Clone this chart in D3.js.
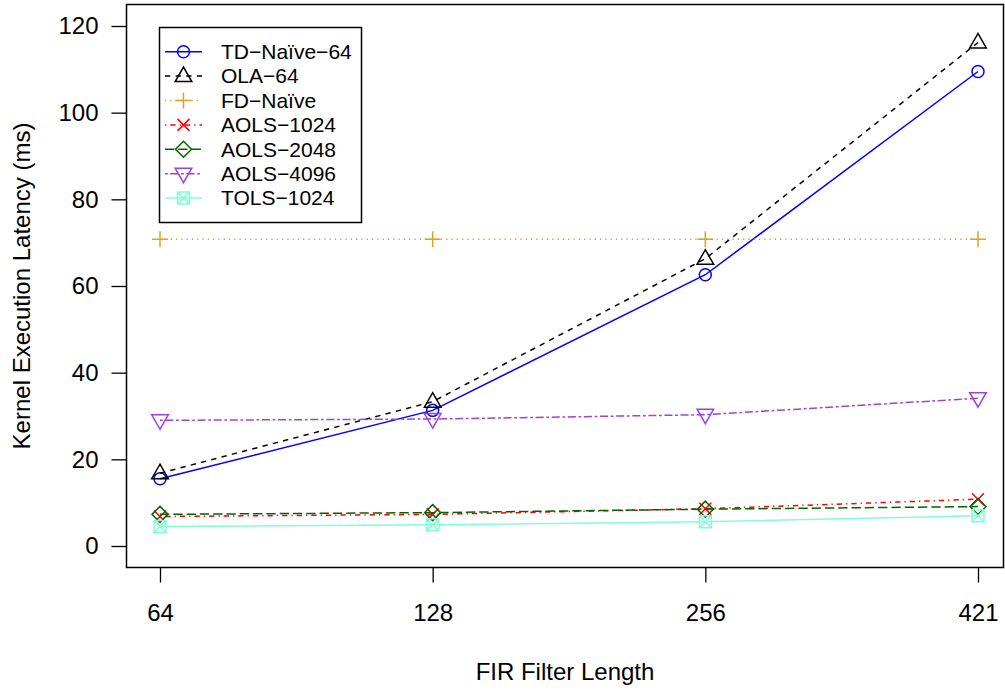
<!DOCTYPE html>
<html>
<head>
<meta charset="utf-8">
<script src="https://cdn.jsdelivr.net/npm/d3@7"></script>
<style>
  body { margin: 0; background: #fff; }
  svg text { font-family: "Liberation Sans", Arial, sans-serif; fill: #000; }
</style>
</head>
<body>
<div id="chart"></div>
<script>
// categories and series
var categories = ["64", "128", "256", "421"];
var yTicks = [0, 20, 40, 60, 80, 100, 120];

var tdNaive64 = [15.5, 31.3, 62.6, 109.5];
var ola64 = [16.8, 33.3, 66.3, 116.2];
var fdNaive = [70.8, 70.8, 70.8, 70.8];
var aols1024 = [6.8, 7.3, 8.6, 10.8];
var aols2048 = [7.3, 7.7, 8.5, 9.1];
var aols4096 = [29.0, 29.3, 30.3, 34.1];
var tols1024 = [4.5, 4.9, 5.6, 7.0];

var seriesNames = ["TD\u2212Na\u00efve\u221264", "OLA\u221264", "FD\u2212Na\u00efve", "AOLS\u22121024", "AOLS\u22122048", "AOLS\u22124096", "TOLS\u22121024"];
var seriesValues = [tdNaive64, ola64, fdNaive, aols1024, aols2048, aols4096, tols1024];

// look of each series (R style pch / lty)
var styles = [
  { color: "#0000ff", dash: null, shape: "circle" },
  { color: "#000000", dash: "5.3,5.3", shape: "triUp" },
  { color: "#daa520", dash: "1.3,4", shape: "plus" },
  { color: "#ff0000", dash: "1.3,4,5.3,4", shape: "cross" },
  { color: "#006400", dash: "9.3,4", shape: "diamond" },
  { color: "#a040d8", dash: "2.7,2.7,8,2.7", shape: "triDown" },
  { color: "#7fffd4", dash: null, shape: "boxX" }
];

var W = 1005, H = 694;
var box = { left: 126.5, top: 4.5, right: 1003.5, bottom: 567.5 };
var fs = 24;

var svg = d3.select("#chart").append("svg")
  .attr("width", W)
  .attr("height", H);

var x = d3.scalePoint().domain(categories).range([160, 978]);
var y = d3.scaleLinear().domain([0, 120]).range([546, 26]);

// marker drawing
function drawMarker(g, shape, color, cx, cy) {
  var r = 6;
  var m = g.append("g").attr("transform", "translate(" + cx + "," + cy + ")")
    .attr("fill", "none").attr("stroke", color).attr("stroke-width", 1.5);
  if (shape === "circle") {
    m.append("circle").attr("r", r);
  } else if (shape === "triUp") {
    m.append("path").attr("d", "M0,-9L8.3,5.5L-8.3,5.5Z");
  } else if (shape === "triDown") {
    m.append("path").attr("d", "M0,9L8.3,-5.5L-8.3,-5.5Z");
  } else if (shape === "plus") {
    m.append("path").attr("d", "M-8,0H8M0,-8V8");
  } else if (shape === "cross") {
    m.append("path").attr("d", "M-6,-6L6,6M-6,6L6,-6");
  } else if (shape === "diamond") {
    m.append("path").attr("d", "M0,-8L8,0L0,8L-8,0Z");
  } else if (shape === "boxX") {
    m.append("path").attr("d", "M-6,-6H6V6H-6ZM-6,-6L6,6M-6,6L6,-6");
  }
}

// lines and points
var line = d3.line()
  .x(function (d, i) { return x(categories[i]); })
  .y(function (d) { return y(d); });

seriesValues.forEach(function (vals, k) {
  var st = styles[k];
  svg.append("path")
    .datum(vals)
    .attr("fill", "none")
    .attr("stroke", st.color)
    .attr("stroke-width", 1.5)
    .attr("stroke-dasharray", st.dash)
    .attr("d", line);
  vals.forEach(function (v, i) {
    drawMarker(svg, st.shape, st.color, x(categories[i]), y(v));
  });
});

// plot box
svg.append("rect")
  .attr("x", box.left).attr("y", box.top)
  .attr("width", box.right - box.left).attr("height", box.bottom - box.top)
  .attr("fill", "none").attr("stroke", "#000").attr("stroke-width", 1.5);

// y axis
var yAxis = svg.append("g")
  .attr("transform", "translate(" + box.left + ",0)")
  .call(d3.axisLeft(y).tickValues(yTicks).tickSize(15).tickPadding(13));
yAxis.select(".domain").remove();
yAxis.selectAll("line").attr("stroke-width", 1.3);
yAxis.selectAll("text").attr("font-size", fs).style("font-family", "Liberation Sans, Arial, sans-serif");

// x axis
var xAxis = svg.append("g")
  .attr("transform", "translate(0," + box.bottom + ")")
  .call(d3.axisBottom(x).tickSize(15).tickPadding(21));
xAxis.select(".domain").remove();
xAxis.selectAll("line").attr("stroke-width", 1.3);
xAxis.selectAll("text").attr("font-size", fs).style("font-family", "Liberation Sans, Arial, sans-serif");

// axis titles
svg.append("text")
  .attr("x", (box.left + box.right) / 2)
  .attr("y", 680)
  .attr("text-anchor", "middle")
  .attr("font-size", fs)
  .text("FIR Filter Length");

svg.append("text")
  .attr("transform", "translate(30," + ((box.top + box.bottom) / 2) + ") rotate(-90)")
  .attr("text-anchor", "middle")
  .attr("font-size", fs)
  .text("Kernel Execution Latency (ms)");

// legend
var lg = svg.append("g");
lg.append("rect")
  .attr("x", 159.5).attr("y", 27.5).attr("width", 202).attr("height", 195)
  .attr("fill", "#fff").attr("stroke", "#000").attr("stroke-width", 1.5);

seriesNames.forEach(function (name, k) {
  var st = styles[k];
  var ly = 51.7 + k * 24.4;
  lg.append("line")
    .attr("x1", 165).attr("x2", 202).attr("y1", ly).attr("y2", ly)
    .attr("stroke", st.color).attr("stroke-width", 1.5)
    .attr("stroke-dasharray", st.dash);
  drawMarker(lg, st.shape, st.color, 183.5, ly);
  lg.append("text")
    .attr("x", 221).attr("y", ly)
    .attr("dy", "0.35em")
    .attr("font-size", 21)
    .text(name);
});
</script>
</body>
</html>
